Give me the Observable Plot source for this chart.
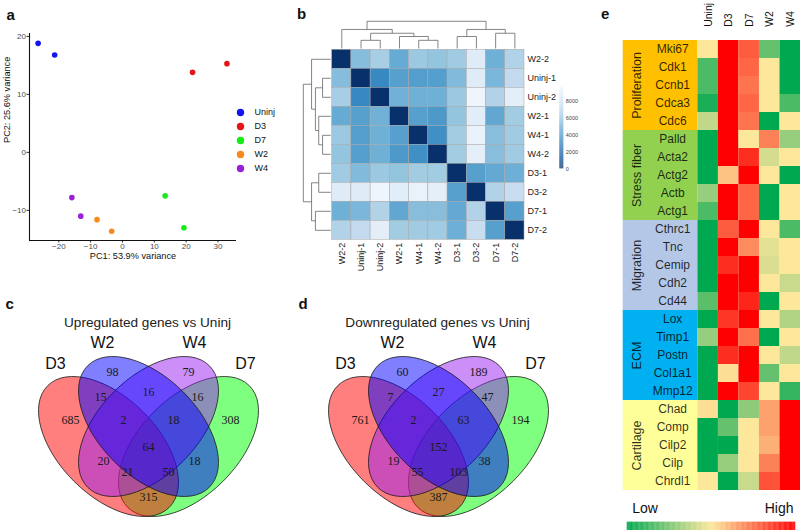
<!DOCTYPE html>
<html><head><meta charset="utf-8">
<script src="https://cdn.jsdelivr.net/npm/d3@7"></script>
<script src="https://cdn.jsdelivr.net/npm/@observablehq/plot@0.6"></script>
<style>
html,body{margin:0;padding:0;background:#fff}
#fig{position:relative;width:800px;height:532px;overflow:hidden;background:#fff;font-family:"Liberation Sans",Arial,sans-serif}
.plab{position:absolute;font-weight:bold;font-size:15px;line-height:15px;color:#111}
</style></head>
<body><div id="fig"></div>
<script>
// ================= DATA =================
// --- panel a: PCA ---
const pcaGroups = ["Uninj", "D3", "D7", "W2", "W4"];
const pcaSampleGroup = ["Uninj", "Uninj", "D3", "D3", "D7", "D7", "W2", "W2", "W4", "W4"];
const pc1 = [-26.5, -21.3, 22.0, 32.8, 13.4, 19.3, -8.0, -3.4, -15.9, -13.1];
const pc2 = [18.8, 16.8, 13.8, 15.3, -7.5, -13.0, -11.6, -13.6, -7.8, -11.0];
const pc1Ticks = [-20, -10, 0, 10, 20, 30];
const pc2Ticks = [-10, 0, 10, 20];

// --- panel b: sample distance heatmap ---
const distSamples = ["W2-2", "Uninj-1", "Uninj-2", "W2-1", "W4-1", "W4-2", "D3-1", "D3-2", "D7-1", "D7-2"];
const distMatrix = [
  [0, 5600, 6500, 4800, 6150, 5950, 6250, 8700, 5050, 6800],
  [5600, 0, 3350, 4350, 4250, 4300, 5500, 8700, 5350, 7300],
  [6500, 3350, 0, 5100, 5050, 5050, 6150, 9450, 6800, 8900],
  [4800, 4350, 5100, 0, 4350, 4050, 5950, 8800, 4650, 6300],
  [6150, 4250, 5050, 4350, 0, 3650, 6300, 9200, 5650, 6250],
  [5950, 4300, 5050, 4050, 3650, 0, 6300, 9000, 5650, 6250],
  [6250, 5500, 6150, 5950, 6300, 6300, 0, 4350, 4750, 5000],
  [8700, 8700, 9450, 8800, 9200, 9000, 4350, 0, 6800, 7600],
  [5050, 5350, 6800, 4650, 5650, 5650, 4750, 6800, 0, 4350],
  [6800, 7300, 8900, 6300, 6250, 6250, 5000, 7600, 4350, 0]
];
// hierarchical clustering: [left, right, merge height (root = 1)]
const distTree = [
  ["W2-2", [["Uninj-1", "Uninj-2", 0.30], ["W2-1", ["W4-1", "W4-2", 0.30], 0.44], 0.56], 0.70],
  [["D3-1", "D3-2", 0.44], ["D7-1", "D7-2", 0.56], 0.70],
  1.0
];
const distMax = 9900;
const distLegendTicks = [0, 2000, 4000, 6000, 8000];

// --- panels c, d: Venn diagrams ---
const vennSets = ["D3", "W2", "W4", "D7"];
const vennRegions = ["D3", "W2", "W4", "D7", "D3&W2", "W2&W4", "W4&D7", "D3&W2&W4", "W2&W4&D7",
  "D3&W2&W4&D7", "D3&W4", "W2&D7", "D3&W4&D7", "D3&W2&D7", "D3&D7"];
const upCounts = [685, 98, 79, 308, 15, 16, 16, 2, 18, 64, 20, 18, 21, 50, 315];
const downCounts = [761, 60, 189, 194, 7, 27, 47, 2, 63, 152, 19, 38, 55, 103, 387];
const upTitle = "Upregulated genes vs Uninj";
const downTitle = "Downregulated genes vs Uninj";

// --- panel e: marker gene heatmap (row-scaled, 0 = low, 1 = high) ---
const heatSamples = ["Uninj", "D3", "D7", "W2", "W4"];
const geneGroups = ["Proliferation", "Stress fiber", "Migration", "ECM", "Cartilage"];
const proliferationGenes = ["Mki67", "Cdk1", "Ccnb1", "Cdca3", "Cdc6"];
const stressFiberGenes = ["Palld", "Acta2", "Actg2", "Actb", "Actg1"];
const migrationGenes = ["Cthrc1", "Tnc", "Cemip", "Cdh2", "Cd44"];
const ecmGenes = ["Lox", "Timp1", "Postn", "Col1a1", "Mmp12"];
const cartilageGenes = ["Chad", "Comp", "Cilp2", "Cilp", "Chrdl1"];
const uninjExpr = [0.50, 0.15, 0.15, 0.05, 0.38, 0.00, 0.00, 0.00, 0.30, 0.15, 0.00, 0.00, 0.00, 0.00, 0.18, 0.00, 0.30, 0.00, 0.00, 0.00, 0.52, 0.00, 0.00, 0.00, 0.50];
const d3Expr    = [1.00, 1.00, 1.00, 1.00, 1.00, 1.00, 1.00, 0.58, 1.00, 1.00, 0.80, 1.00, 0.90, 1.00, 1.00, 0.88, 1.00, 0.90, 0.52, 1.00, 0.00, 0.20, 0.00, 0.30, 0.00];
const d7Expr    = [0.80, 0.78, 0.75, 0.78, 0.75, 0.50, 0.90, 1.00, 0.78, 0.78, 1.00, 0.70, 1.00, 1.00, 0.92, 1.00, 0.76, 1.00, 1.00, 0.85, 0.28, 0.50, 0.50, 0.50, 0.40];
const w2Expr    = [0.20, 0.50, 0.50, 0.50, 0.00, 0.72, 0.42, 0.50, 0.00, 0.00, 0.50, 0.45, 0.43, 0.50, 0.00, 0.50, 0.00, 0.50, 0.20, 0.50, 0.65, 0.65, 0.62, 0.72, 0.82];
const w4Expr    = [0.00, 0.00, 0.00, 0.15, 0.50, 0.30, 0.50, 0.00, 0.50, 0.50, 0.15, 0.50, 0.50, 0.40, 0.50, 0.35, 0.50, 0.38, 0.50, 0.10, 1.00, 1.00, 1.00, 1.00, 1.00];

// ================= STYLE / LAYOUT =================
const FONT = "Liberation Sans, Arial, sans-serif";
const pcaColors = ["#1414ee", "#e61414", "#14ec14", "#f88a1c", "#9a20d8"];
const blues9 = ["#f7fbff", "#deebf7", "#c6dbef", "#9ecae1", "#6baed6", "#4292c6", "#2171b5", "#08519c", "#08306b"];
const distColor = {type: "linear", domain: d3.range(9).map(i => i * distMax / 8), range: blues9.slice().reverse(), interpolate: "rgb"};
const heatColor = {type: "linear", domain: [0, 0.5, 1], range: ["#00a84f", "#fce79b", "#ff0000"], interpolate: "rgb"};
const groupColors = ["#ffc000", "#92d050", "#b4c7e7", "#00b0f0", "#ffff99"];
// Venn geometry (pixel units, origin at the diagram centre, y down)
const ELL_A = 86, ELL_RATIO = 49 / 86;
const vennShapes = [
  {set: "D7", cx: 40, cy: 0, rot: -45, color: "#00ff00"},
  {set: "D3", cx: -40, cy: 0, rot: 45, color: "#ff0000"},
  {set: "W4", cx: 0, cy: -20, rot: -45, color: "#9a20f0"},
  {set: "W2", cx: 0, cy: -20, rot: 45, color: "#0000ff"}
];
const vennLabelPos = [[-78, -26], [-36, -74], [40, -74], [82, -26], [-48, -49], [0, -54], [49, -49], [-25, -26], [25, -26],
  [0, 1], [-45, 15], [46, 15], [-21, 26], [20, 26], [0, 51]];
const vennSetPos = [[-93, -83], [-46, -104], [46, -104], [97, -83]];

const fig = document.getElementById("fig");
function place(node, left, top) {
  node.style.position = "absolute";
  node.style.left = left + "px";
  node.style.top = top + "px";
  node.style.maxWidth = "none";
  fig.appendChild(node);
  return node;
}
function panelLabel(t, left, top) {
  const d = document.createElement("div");
  d.className = "plab"; d.textContent = t;
  d.style.left = left + "px"; d.style.top = top + "px";
  fig.appendChild(d);
}
const baseStyle = {background: "transparent", fontFamily: FONT, overflow: "visible"};

// ================= PANEL a =================
const pcaTable = pcaSampleGroup.map((g, i) => ({group: g, pc1: pc1[i], pc2: pc2[i]}));
const xDomA = [-29.2, 35.8], yDomA = [-15.2, 20.5];
place(Plot.plot({
  width: 240, height: 270, marginLeft: 29, marginRight: 4, marginTop: 33, marginBottom: 30,
  style: {...baseStyle, fontSize: "8px", color: "#4d4d4d"},
  x: {domain: xDomA, label: null},
  y: {domain: yDomA, label: null},
  color: {domain: pcaGroups, range: pcaColors},
  marks: [
    Plot.axisX({ticks: pc1Ticks, tickSize: 2.5, tickPadding: 0.5, label: null, stroke: "#333"}),
    Plot.axisY({ticks: pc2Ticks, tickSize: 2.5, tickPadding: 1, label: null, stroke: "#333"}),
    Plot.ruleX([xDomA[0]], {stroke: "#111", strokeWidth: 1.1}),
    Plot.ruleY([yDomA[0]], {stroke: "#111", strokeWidth: 1.1}),
    Plot.dot(pcaTable, {x: "pc1", y: "pc2", fill: "group", r: 2.8}),
    Plot.text(["PC1: 53.9% variance"], {text: d => d, frameAnchor: "bottom", dy: 18.5, fontSize: 9.2, fill: "#111"}),
    Plot.text(["PC2: 25.6% variance"], {text: d => d, frameAnchor: "left", rotate: -90, dx: -22, dy: 6, fontSize: 9.2, fill: "#111"})
  ]
}), 0, 0);
// legend
place(Plot.plot({
  width: 50, height: 100, margin: 0,
  style: {...baseStyle, fontSize: "9px", color: "#111"},
  x: {domain: [0, 1], range: [10, 24], axis: null},
  y: {domain: pcaGroups, type: "point", range: [14, 85], axis: null},
  color: {domain: pcaGroups, range: pcaColors},
  marks: [
    Plot.dot(pcaGroups, {x: d => 0, y: d => d, fill: d => d, r: 3.7}),
    Plot.text(pcaGroups, {x: d => 1, y: d => d, text: d => d, textAnchor: "start"})
  ]
}), 230, 90);

// ================= PANEL b =================
const distTable = [];
distMatrix.forEach((row, r) => row.forEach((v, c) => distTable.push({r, c, v})));
const dendroSegs = [];
function walk(node) {
  if (typeof node === "string") return {pos: distSamples.indexOf(node) + 0.5, h: 0};
  const [l, r, h] = node;
  const L = walk(l), R = walk(r);
  dendroSegs.push({p1: L.pos, h1: L.h, p2: L.pos, h2: h});
  dendroSegs.push({p1: R.pos, h1: R.h, p2: R.pos, h2: h});
  dendroSegs.push({p1: L.pos, h1: h, p2: R.pos, h2: h});
  return {pos: (L.pos + R.pos) / 2, h};
}
walk(distTree);
const dOff = h => -(0.07 + h * 1.43);
const labelTicks = distSamples.map((d, i) => i + 0.5);
const labelFmt = v => distSamples[Math.floor(v)];
place(Plot.plot({
  width: 300, height: 275, marginLeft: 10.9, marginRight: 66, marginTop: 18.9, marginBottom: 35.7,
  style: {...baseStyle, fontSize: "9px", color: "#222"},
  x: {domain: [-1.6, 10], label: null},
  y: {domain: [10, -1.6], label: null},
  color: distColor,
  marks: [
    Plot.rect(distTable, {x1: d => d.c, x2: d => d.c + 1, y1: d => d.r, y2: d => d.r + 1, fill: "v", stroke: "#a6a6a6", strokeWidth: 0.5}),
    Plot.link(dendroSegs, {x1: "p1", x2: "p2", y1: d => dOff(d.h1), y2: d => dOff(d.h2), stroke: "#666", strokeWidth: 0.8}),
    Plot.link(dendroSegs, {y1: "p1", y2: "p2", x1: d => dOff(d.h1), x2: d => dOff(d.h2), stroke: "#666", strokeWidth: 0.8}),
    Plot.axisX({anchor: "bottom", ticks: labelTicks, tickFormat: labelFmt, tickRotate: -90, tickSize: 0, tickPadding: 3, label: null}),
    Plot.axisY({anchor: "right", ticks: labelTicks, tickFormat: labelFmt, tickSize: 0, tickPadding: 3, label: null})
  ]
}), 290, 0);
// colour key
const keySteps = d3.range(0, distMax, distMax / 200);
place(Plot.plot({
  width: 40, height: 95, marginLeft: 4.3, marginRight: 31.7, marginTop: 5, marginBottom: 6.7,
  style: {...baseStyle, fontSize: "5.5px", color: "#444"},
  x: {domain: [0, 1], axis: null},
  y: {domain: [0, distMax], label: null},
  color: distColor,
  marks: [
    Plot.rect(keySteps, {x1: d => 0, x2: d => 1, y1: d => d, y2: d => d + distMax / 200 + 1, fill: d => d}),
    Plot.axisY({anchor: "right", ticks: distLegendTicks, tickSize: 0, tickPadding: 2, tickFormat: d3.format("d"), label: null})
  ]
}), 555, 80);

// ================= PANELS c, d =================
function ellipseSymbol(ratio, deg) {
  const t = deg * Math.PI / 180, cs = Math.cos(t), sn = Math.sin(t), k = 0.5522847498;
  return {
    draw(ctx, size) {
      const a = Math.sqrt(size / Math.PI), b = a * ratio;
      const P = (u, v) => [u * a * cs - v * b * sn, u * a * sn + v * b * cs];
      const seq = [[[1, k], [k, 1], [0, 1]], [[-k, 1], [-1, k], [-1, 0]], [[-1, -k], [-k, -1], [0, -1]], [[k, -1], [1, -k], [1, 0]]];
      const p0 = P(1, 0);
      ctx.moveTo(p0[0], p0[1]);
      for (const [c1, c2, e] of seq) {
        const A = P(...c1), B = P(...c2), E = P(...e);
        ctx.bezierCurveTo(A[0], A[1], B[0], B[1], E[0], E[1]);
      }
      ctx.closePath();
    }
  };
}
const ellDR = ellipseSymbol(ELL_RATIO, 45), ellDL = ellipseSymbol(ELL_RATIO, -45);
function vennPlot(counts, title) {
  return Plot.plot({
    width: 300, height: 215, margin: 0,
    style: {...baseStyle, color: "#111"},
    x: {domain: [-150, 150], axis: null},
    y: {domain: [80, -135], axis: null},
    marks: [
      ...vennShapes.map(s => Plot.dot([s], {x: "cx", y: "cy", r: ELL_A, symbol: s.rot > 0 ? ellDR : ellDL,
        fill: s.color, fillOpacity: 0.5, stroke: "#1a1a1a", strokeWidth: 0.8})),
      Plot.text(vennRegions, {x: (d, i) => vennLabelPos[i][0], y: (d, i) => vennLabelPos[i][1], text: (d, i) => String(counts[i]),
        fontFamily: "Liberation Serif, Times New Roman, serif", fontSize: 12, fill: "#1a1a1a"}),
      Plot.text(vennSets, {x: (d, i) => vennSetPos[i][0], y: (d, i) => vennSetPos[i][1], text: d => d, fontSize: 16, fill: "#111"}),
      Plot.text([title], {x: d => -1, y: d => -124, text: d => d, fontSize: 13.6, fill: "#222"})
    ]
  });
}
place(vennPlot(upCounts, upTitle), -2, 311);
place(vennPlot(downCounts, downTitle), 288, 311);

// ================= PANEL e =================
const groupGeneLists = [proliferationGenes, stressFiberGenes, migrationGenes, ecmGenes, cartilageGenes];
const genes = groupGeneLists.flat();
const exprBySample = [uninjExpr, d3Expr, d7Expr, w2Expr, w4Expr];
const heatTable = [];
exprBySample.forEach((vals, c) => vals.forEach((v, gi) => heatTable.push({col: c, gene: genes[gi], v})));
const BLOCK_LEFT = -3.64, GROUP_X = -2.98, GENE_X = -1.23;
place(Plot.plot({
  width: 200, height: 505, marginLeft: 22.7, marginRight: 0, marginTop: 28.3, marginBottom: 4.2,
  style: {...baseStyle, fontSize: "10.5px", color: "#111"},
  x: {domain: [BLOCK_LEFT, 5], label: null},
  y: {domain: genes, type: "band", padding: 0, axis: null},
  color: heatColor,
  marks: [
    ...groupGeneLists.map((list, gi) => Plot.barX(list, {x1: d => BLOCK_LEFT, x2: d => 0, y: d => d, fill: groupColors[gi], inset: 0})),
    Plot.barX(heatTable, {x1: d => d.col, x2: d => d.col + 1, y: "gene", fill: "v", inset: 0}),
    Plot.text(genes, {x: d => GENE_X, y: d => d, text: d => d, fontSize: 12, fill: "#000", fillOpacity: 0.82}),
    Plot.text(geneGroups, {x: d => GROUP_X, y: (d, i) => groupGeneLists[i][2], text: d => d, rotate: -90, fontSize: 12.5, fill: "#000", fillOpacity: 0.82}),
    Plot.axisX({anchor: "top", ticks: heatSamples.map((d, i) => i + 0.5), tickFormat: v => heatSamples[Math.floor(v)], tickRotate: -90, tickSize: 0, tickPadding: 2, label: null})
  ]
}), 600, 0);
// Low-High key
const rampSteps = d3.range(0, 1, 0.005);
place(Plot.plot({
  width: 180, height: 36, marginLeft: 6.7, marginRight: 5, marginTop: 25.7, marginBottom: 2,
  style: {...baseStyle, fontSize: "14px", color: "#111"},
  x: {domain: [0, 1], axis: null},
  y: {domain: [0, 1], axis: null},
  color: heatColor,
  marks: [
    Plot.rect(rampSteps, {x1: d => d, x2: d => d + 0.0065, y1: d => 0, y2: d => 1, fill: d => d}),
    Plot.text(["Low"], {text: d => d, frameAnchor: "top-left", dx: 5, dy: -13.7, textAnchor: "start", lineAnchor: "middle"}),
    Plot.text(["High"], {text: d => d, frameAnchor: "top-right", dx: -2, dy: -13.7, textAnchor: "end", lineAnchor: "middle"})
  ]
}), 620, 496);

// panel letters
panelLabel("a", 6.5, 7);
panelLabel("b", 297, 6);
panelLabel("c", 5.5, 296);
panelLabel("d", 298.5, 296);
panelLabel("e", 601, 6);
</script>
</body></html>
